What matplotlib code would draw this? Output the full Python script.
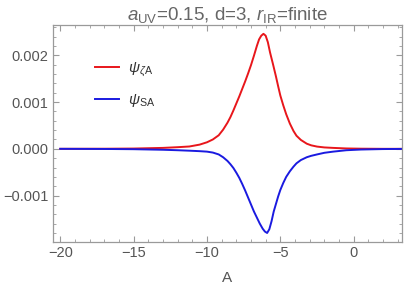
import matplotlib
matplotlib.use('Agg')
import matplotlib.pyplot as plt
from matplotlib.ticker import MultipleLocator

plt.rcParams.update({
    'font.family': 'Liberation Sans',
    'mathtext.fontset': 'custom',
    'mathtext.rm': 'Liberation Sans',
    'mathtext.it': 'Liberation Sans:italic',
    'mathtext.bf': 'Liberation Sans:bold',
})

A_RED = [-20, -17, -15, -13, -12, -11.2, -10.5, -10, -9.6, -9.2, -8.9, -8.6, -8.4,
         -8.2, -8.0, -7.8, -7.6, -7.4, -7.2, -7.0, -6.8, -6.6, -6.45, -6.3, -6.15,
         -6.0, -5.85, -5.7, -5.5, -5.3, -5.15, -5.0, -4.8, -4.6, -4.35, -4.1, -3.9,
         -3.6, -3.2, -2.9, -2.5, -2.0, -1.4, -0.5, 0.5, 2, 3.3]
# psi_zeta_A, units of 1e-3
PSI_ZETA = [0, 0.002, 0.006, 0.02, 0.035, 0.05, 0.09, 0.14, 0.2, 0.29, 0.41, 0.56, 0.68,
            0.82, 0.97, 1.12, 1.28, 1.44, 1.61, 1.79, 1.99, 2.2, 2.34, 2.42, 2.46,
            2.42, 2.28, 2.06, 1.81, 1.55, 1.34, 1.14, 0.93, 0.74, 0.54, 0.38, 0.28,
            0.19, 0.11, 0.075, 0.048, 0.03, 0.02, 0.008, 0.003, 0.0, 0]

A_BLUE = [-20, -17, -15, -13, -12, -11.2, -10.5, -10, -9.6, -9.2, -8.9, -8.6, -8.4,
          -8.2, -8.0, -7.8, -7.6, -7.4, -7.2, -7.0, -6.8, -6.6, -6.4, -6.2, -6.05,
          -5.9, -5.75, -5.6, -5.45, -5.3, -5.15, -5.0, -4.8, -4.6, -4.35, -4.1, -3.9,
          -3.6, -3.2, -2.9, -2.5, -2.0, -1.4, -0.5, 0.5, 2, 3.3]
# psi_SA, units of 1e-3
PSI_S = [0, -0.003, -0.008, -0.02, -0.03, -0.04, -0.05, -0.06, -0.08, -0.12, -0.18, -0.26, -0.33,
         -0.41, -0.51, -0.62, -0.75, -0.89, -1.04, -1.19, -1.34, -1.47, -1.6, -1.71, -1.77,
         -1.8, -1.72, -1.55, -1.34, -1.18, -1.02, -0.88, -0.73, -0.6, -0.48, -0.38, -0.31,
         -0.24, -0.18, -0.15, -0.12, -0.085, -0.06, -0.03, -0.015, -0.005, -0.002]

GREY = '#9a9a9a'
TXT = '#555555'

fig = plt.figure(figsize=(4.07, 2.90), dpi=100)
ax = fig.add_axes([0.130, 0.166, 0.858, 0.748])

ax.plot(A_RED, [v * 1e-3 for v in PSI_ZETA], color='#e8161b', lw=1.4,
        label=r'$\psi_{\zeta\mathrm{A}}$')
ax.plot(A_BLUE, [v * 1e-3 for v in PSI_S], color='#1a1ae0', lw=1.4,
        label=r'$\psi_{\mathrm{SA}}$')

ax.set_xlim(-20.5, 3.3)
ax.set_ylim(-0.00199, 0.00265)
ax.xaxis.set_major_locator(MultipleLocator(5))
ax.xaxis.set_minor_locator(MultipleLocator(1))
ax.yaxis.set_major_locator(MultipleLocator(0.001))
ax.yaxis.set_minor_locator(MultipleLocator(0.0002))
ax.yaxis.set_major_formatter(plt.FuncFormatter(lambda v, p: f'{v:.3f}'.replace('-', '\u2212')))
ax.xaxis.set_major_formatter(plt.FuncFormatter(lambda v, p: f'{v:.0f}'.replace('-', '\u2212')))

for s in ax.spines.values():
    s.set_color(GREY)
    s.set_linewidth(0.9)
ax.tick_params(which='both', direction='in', top=True, right=True, color=GREY,
               labelcolor=TXT, labelsize=10.5)
ax.tick_params(which='major', length=4, width=0.8, pad=3)
ax.tick_params(which='minor', length=2, width=0.6)

ax.set_xlabel('A', color=TXT, fontsize=11, labelpad=8)
ax.set_title(r'$a_{\mathrm{UV}}$=0.15, d=3, $r_{\mathrm{IR}}$=finite', color='#666666',
             fontsize=13.5, pad=3)

leg = ax.legend(loc='upper left', bbox_to_anchor=(0.08, 0.90), frameon=False,
                fontsize=11, handlelength=1.6, labelspacing=0.85, handletextpad=0.6)
for t in leg.get_texts():
    t.set_color('#333333')

fig.savefig('out.png', dpi=100)
